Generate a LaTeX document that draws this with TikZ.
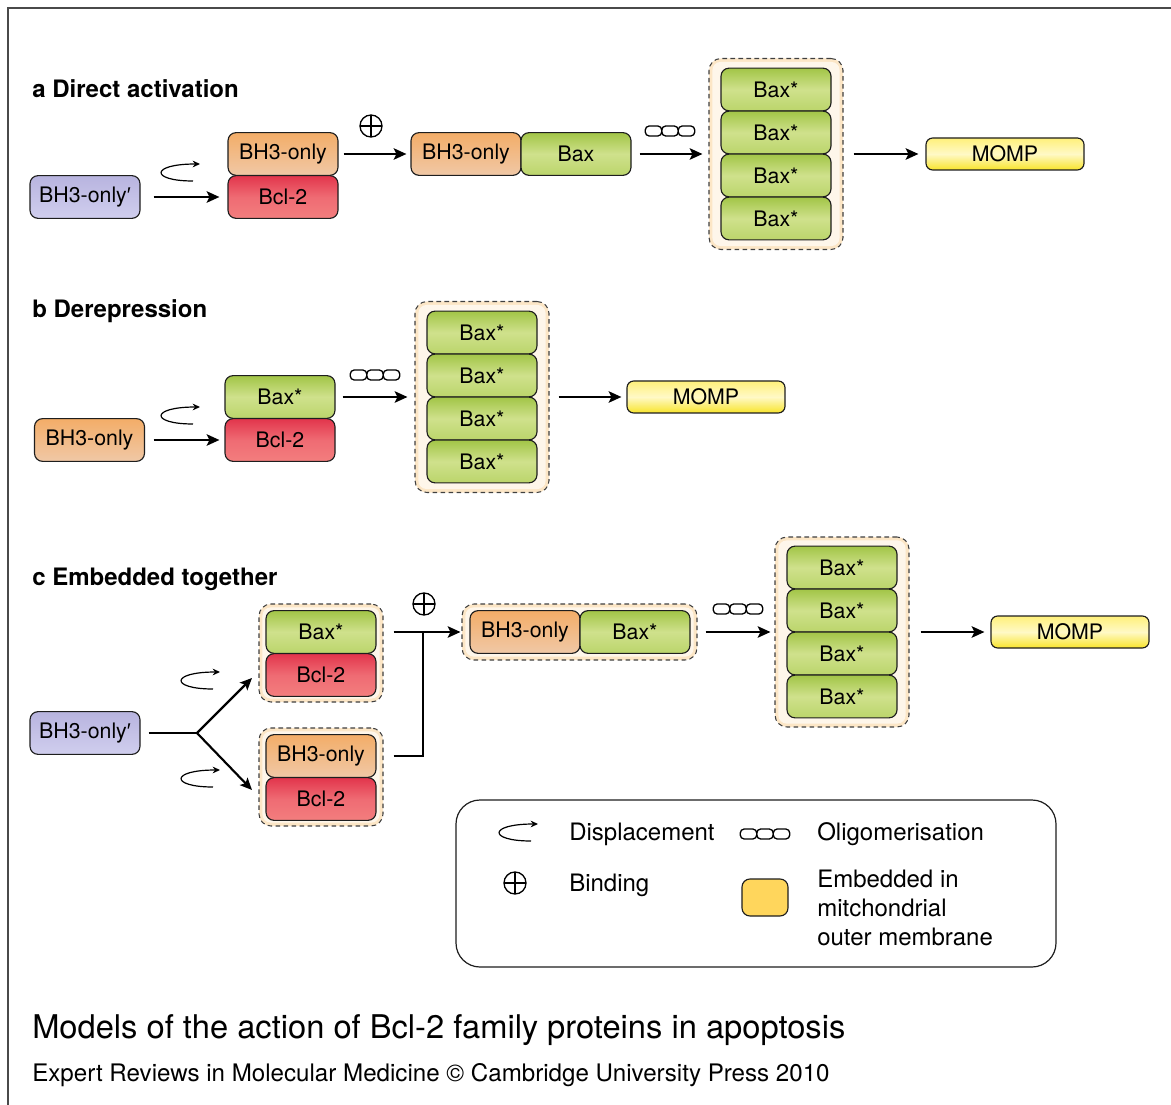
\documentclass[tikz,border=0pt]{standalone}
\usepackage{fontspec}
\setmainfont{TeX Gyre Heros}
\newfontfamily\primefont{Liberation Sans}
\usetikzlibrary{arrows.meta,calc}
\definecolor{pT}{HTML}{B8B4DF}
\definecolor{pB}{HTML}{D0CEEE}
\definecolor{oT}{HTML}{F3AD68}
\definecolor{oB}{HTML}{F0C8A6}
\definecolor{rT}{HTML}{E2354C}
\definecolor{rM}{HTML}{EF6B73}
\definecolor{rB}{HTML}{F37E7E}
\definecolor{gT}{HTML}{A2C547}
\definecolor{gM}{HTML}{CFE18C}
\definecolor{gB}{HTML}{BBD56B}
\definecolor{yT}{HTML}{FFF07A}
\definecolor{yM}{HTML}{FFF9C6}
\definecolor{yB}{HTML}{F8E42A}
\definecolor{contOut}{HTML}{FCE6C6}
\definecolor{contIn}{HTML}{FEF6EA}
\definecolor{legY}{HTML}{FFD65C}
\definecolor{frameC}{HTML}{4A4A4A}
\definecolor{edge}{HTML}{1E1E1E}
\tikzset{
  prot/.style={draw=edge, line width=0.85pt, rounded corners=6pt, minimum width=82.5pt, minimum height=32pt, inner sep=0pt, font=\fontsize{16}{19}\selectfont},
  pbox/.style={top color=pT, bottom color=pB},
  obox/.style={top color=oT, bottom color=oB},
  rbox/.style={top color=rT, bottom color=rB, middle color=rM},
  gbox/.style={top color=gT, bottom color=gB, middle color=gM},
  ybox/.style={draw=edge, line width=0.85pt, rounded corners=5pt, minimum width=118.5pt, minimum height=24pt, inner sep=0pt, font=\fontsize{16}{19}\selectfont, top color=yT, bottom color=yB, middle color=yM},
  cont/.style={draw=edge!85, line width=0.8pt, dash pattern=on 3.5pt off 2.5pt, rounded corners=9pt, fill=contOut, inner sep=0pt},
  arr/.style={line width=2.2pt, -{Stealth[length=9.5pt,width=8.5pt,inset=2pt]}},
  arrthin/.style={line width=1.6pt, -{Stealth[length=9pt,width=8pt,inset=2pt]}},
  hd/.style={anchor=base west, inner sep=0pt, font=\fontsize{18}{22}\selectfont\bfseries},
  lgt/.style={anchor=base west, inner sep=0pt, font=\fontsize{18}{22}\selectfont},
  displ/.pic={\draw[line width=0.9pt, -{Stealth[length=5.5pt,width=5pt]}] (12,9) .. controls (-31,9) and (-31,-8) .. (19,-8);},
  olig/.pic={\foreach \i in {-1,0,1} \draw[line width=1pt, rounded corners=3pt] ({\i*16.5-8.25},-5) rectangle ({\i*16.5+8.25},5);},
  bind/.pic={\draw[line width=1pt] (0,0) circle[radius=8.25pt]; \draw[line width=1pt] (-11,0) -- (11,0) (0,-11) -- (0,11);}
}
\newcommand{\innerglow}[1]{\fill[contIn, rounded corners=6pt] ([shift={(4,4)}]#1.north west) rectangle ([shift={(-4,-4)}]#1.south east);}
\begin{document}
\begin{tikzpicture}[x=0.75pt,y=-0.75pt]
\useasboundingbox (0,0) rectangle (1171,1105);
\clip (0,0) rectangle (1171,1105);
\fill[white] (0,0) rectangle (1171,1105);
\draw[frameC, line width=1.5pt] (8,1130) -- (8,8) -- (1190,8);

% ---------- panel a ----------
\node[hd] (ha) at (32,98) {a Direct activation};
\node[prot,pbox] (a1) at (85,197) {BH3-only{\primefont ′}};
\node[prot,obox] (a2) at (283,154) {BH3-only};
\node[prot,rbox] (a3) at (283,197) {Bcl-2};
\pic at (181,172) {displ};
\draw[arr, shorten <=9.75pt, shorten >=6pt] (a1) -- (a3);
\node[prot,obox] (a4) at (466,154) {BH3-only};
\node[prot,gbox] (a5) at (576,154) {Bax};
\pic at (371,126) {bind};
\draw[arr, shorten <=3.75pt, shorten >=3pt] (a2) -- (a4);
\node[cont, minimum width=100.5pt, minimum height=143.25pt] (ca) at (776,154) {};
\innerglow{ca}
\node[prot,gbox] (ab1) at (776,89.5) {Bax*};
\node[prot,gbox] (ab2) at (776,132.5) {Bax*};
\node[prot,gbox] (ab3) at (776,175.5) {Bax*};
\node[prot,gbox] (ab4) at (776,218.5) {Bax*};
\pic at (670,131) {olig};
\draw[arr, shorten <=6pt, shorten >=4.5pt] (a5) -- (ca);
\node[ybox] (m1) at (1005,154) {MOMP};
\draw[arr, shorten <=7.5pt, shorten >=5.25pt] (ca) -- (m1);

% ---------- panel b ----------
\node[hd] (hb) at (32,318) {b Derepression};
\node[prot,obox] (b1) at (89.5,440) {BH3-only};
\node[prot,gbox] (b2) at (280,397) {Bax*};
\node[prot,rbox] (b3) at (280,440) {Bcl-2};
\pic at (181,415) {displ};
\draw[arr, shorten <=6.4pt, shorten >=3.75pt] (b1) -- (b3);
\node[cont, minimum width=100.5pt, minimum height=143.25pt] (cb) at (482,397) {};
\innerglow{cb}
\node[prot,gbox] (bb1) at (482,332.5) {Bax*};
\node[prot,gbox] (bb2) at (482,375.5) {Bax*};
\node[prot,gbox] (bb3) at (482,418.5) {Bax*};
\node[prot,gbox] (bb4) at (482,461.5) {Bax*};
\pic at (375,375) {olig};
\draw[arr, shorten <=5.25pt, shorten >=5.25pt] (b2) -- (cb);
\node[ybox] (m2) at (706,397) {MOMP};
\draw[arr, shorten <=6.75pt, shorten >=3.75pt] (cb) -- (m2);

% ---------- panel c ----------
\node[hd] (hc) at (32,585) {c Embedded together};
\node[prot,pbox] (c1) at (85,733) {BH3-only{\primefont ′}};
\coordinate (j) at (197,733);
\coordinate (t1) at (252,678);
\coordinate (t2) at (252,790);
\draw[line width=2.2pt, shorten <=6pt] (c1) -- (j);
\draw[arrthin] (j) -- (t1);
\draw[arrthin] (j) -- (t2);
\pic at (201,680) {displ};
\pic at (201,778) {displ};
\node[cont, minimum width=93pt, minimum height=73.5pt] (cc1) at (321,653) {};
\innerglow{cc1}
\node[prot,gbox] (c2) at (321,632) {Bax*};
\node[prot,rbox] (c3) at (321,675) {Bcl-2};
\node[cont, minimum width=93pt, minimum height=73.5pt] (cc2) at (321,777) {};
\innerglow{cc2}
\node[prot,obox] (c4) at (321,756) {BH3-only};
\node[prot,rbox] (c5) at (321,799) {Bcl-2};
\node[cont, minimum width=176.25pt, minimum height=42pt] (cc3) at (579.5,632) {};
\innerglow{cc3}
\node[prot,obox] (c6) at (525,632) {BH3-only};
\node[prot,gbox] (c7) at (635,632) {Bax*};
\coordinate (jm) at (423,632);
\draw[arr, shorten <=12.75pt, shorten >=0.75pt] (c2) -- (cc3);
\draw[line width=1.6pt, shorten <=12.75pt] (c4) -| (jm);
\pic at (424,604) {bind};
\node[cont, minimum width=100.5pt, minimum height=142.5pt] (cc4) at (842,632) {};
\innerglow{cc4}
\node[prot,gbox] (cb1) at (842,567.5) {Bax*};
\node[prot,gbox] (cb2) at (842,610.5) {Bax*};
\node[prot,gbox] (cb3) at (842,653.5) {Bax*};
\node[prot,gbox] (cb4) at (842,696.5) {Bax*};
\pic at (738,609) {olig};
\draw[arr, shorten <=6pt, shorten >=3pt] (cc3) -- (cc4);
\node[ybox] (m3) at (1070,632) {MOMP};
\draw[arr, shorten <=8.25pt, shorten >=4.5pt] (cc4) -- (m3);

% ---------- legend ----------
\node[draw=edge, line width=0.9pt, rounded corners=18pt, minimum width=450pt, minimum height=125.25pt, inner sep=0pt] (lg) at (756,883.5) {};
\pic at (519,832) {displ};
\node[lgt] (l1) at (569,840) {Displacement};
\pic at (765,834) {olig};
\node[lgt] (l2) at (817,840) {Oligomerisation};
\pic at (515,883) {bind};
\node[lgt] (l3) at (569,891) {Binding};
\node[draw=edge, line width=0.85pt, rounded corners=6pt, fill=legY, minimum width=34.5pt, minimum height=27.75pt, inner sep=0pt] (l4) at (765,897.5) {};
\node[lgt] (l5) at (817,887) {Embedded in};
\node[lgt] (l6) at (817,916) {mitchondrial};
\node[lgt] (l7) at (817,945) {outer membrane};

% ---------- caption ----------
\node[anchor=base west, inner sep=0pt, font=\fontsize{24.5}{29}\selectfont] (t) at (32,1038) {Models of the action of Bcl-2 family proteins in apoptosis};
\node[anchor=base west, inner sep=0pt, font=\fontsize{18.1}{22}\selectfont] (s) at (32,1081) {Expert Reviews in Molecular Medicine © Cambridge University Press 2010};
\end{tikzpicture}
\end{document}
